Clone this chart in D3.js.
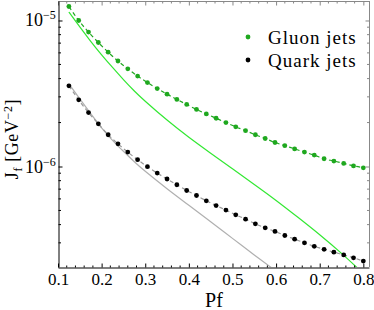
<!DOCTYPE html>
<html>
<head>
<meta charset="utf-8">
<script src="https://cdn.jsdelivr.net/npm/d3@7"></script>
<style>
  body { margin: 0; background: #fff; }
  text { font-family: "Liberation Serif", "DejaVu Serif", serif; fill: #000; }
</style>
</head>
<body>
<script>
/* Pf values of the sampled points */
var pfPoints = [0.125, 0.1475, 0.17, 0.1925, 0.215, 0.2375, 0.26, 0.2825, 0.305, 0.3275,
  0.35, 0.3725, 0.395, 0.4175, 0.44, 0.4625, 0.485, 0.5075, 0.53, 0.5525,
  0.575, 0.5975, 0.62, 0.6425, 0.665, 0.6875, 0.71, 0.7325, 0.755, 0.7775, 0.8];

/* J_f in units of 1e-6 GeV^-2 */
var gluonPoints = [12.47, 10.0, 8.33, 7.07, 6.07, 5.28, 4.67, 4.16, 3.76, 3.42,
  3.13, 2.88, 2.66, 2.46, 2.29, 2.14, 2.00, 1.87, 1.76, 1.65,
  1.555, 1.46, 1.39, 1.32, 1.255, 1.197, 1.13, 1.09, 1.05, 1.01, 0.98];
var quarkPoints = [3.57, 2.86, 2.34, 1.96, 1.65, 1.43, 1.255, 1.113, 0.997, 0.901,
  0.821, 0.750, 0.685, 0.633, 0.582, 0.540, 0.503, 0.467, 0.436, 0.405,
  0.380, 0.359, 0.337, 0.318, 0.300, 0.284, 0.271, 0.259, 0.248, 0.237, 0.225];

/* smooth reference curves */
var pfGluonCurve = [0.125, 0.15, 0.175, 0.2, 0.225, 0.25, 0.275, 0.3, 0.35, 0.4,
  0.45, 0.5, 0.55, 0.6, 0.65, 0.7, 0.75, 0.8];
var gluonCurve = [11.43, 9.03, 7.20, 5.82, 4.77, 3.94, 3.29, 2.80, 2.08, 1.587,
  1.234, 0.964, 0.754, 0.586, 0.449, 0.341, 0.254, 0.185];
var pfQuarkCurve = [0.125, 0.15, 0.175, 0.2, 0.225, 0.25, 0.275, 0.3, 0.35, 0.4,
  0.45, 0.5, 0.55, 0.6];
var quarkCurve = [3.68, 2.91, 2.30, 1.84, 1.512, 1.271, 1.077, 0.927, 0.704, 0.542,
  0.418, 0.322, 0.248, 0.192];

var xMajor = [0.1, 0.2, 0.3, 0.4, 0.5, 0.6, 0.7, 0.8];
var legendLabels = ["Gluon jets", "Quark jets"];

var green = "#1fa81f", lightGreen = "#33e833", grey = "#b0b0b0";

var W = 374, H = 310;
var pLeft = 58, pRight = 369, pTop = 1, pBottom = 267;

var svg = d3.select("body").append("svg")
    .attr("width", W)
    .attr("height", H);

var x = d3.scaleLinear().domain([0.1, 0.813]).range([pLeft, pRight]);
var y = d3.scaleLog().domain([2.05e-7, 1.36e-5]).range([pBottom, pTop]);

function pairs(xs, ys) {
  return xs.map(function(v, i) { return [v, ys[i] * 1e-6]; });
}

/* clip */
svg.append("clipPath").attr("id", "clip")
  .append("rect").attr("x", pLeft).attr("y", pTop)
  .attr("width", pRight - pLeft).attr("height", pBottom - pTop);

var plot = svg.append("g").attr("clip-path", "url(#clip)");

var line = d3.line()
    .x(function(d) { return x(d[0]); })
    .y(function(d) { return y(d[1]); })
    .curve(d3.curveMonotoneX);
var smooth = d3.line()
    .x(function(d) { return x(d[0]); })
    .y(function(d) { return y(d[1]); })
    .curve(d3.curveNatural);

plot.append("path").datum(pairs(pfGluonCurve, gluonCurve))
    .attr("d", smooth).attr("fill", "none")
    .attr("stroke", lightGreen).attr("stroke-width", 1.2);
plot.append("path").datum(pairs(pfQuarkCurve, quarkCurve))
    .attr("d", smooth).attr("fill", "none")
    .attr("stroke", grey).attr("stroke-width", 1.2);

plot.append("path").datum(pairs(pfPoints, gluonPoints))
    .attr("d", line).attr("fill", "none")
    .attr("stroke", green).attr("stroke-width", 1.2)
    .attr("stroke-dasharray", "4,3");
plot.append("path").datum(pairs(pfPoints, quarkPoints))
    .attr("d", line).attr("fill", "none")
    .attr("stroke", "#999").attr("stroke-width", 1.2)
    .attr("stroke-dasharray", "4,3");

plot.selectAll(".gdot").data(pairs(pfPoints, gluonPoints))
  .enter().append("circle").attr("class", "gdot")
    .attr("cx", function(d) { return x(d[0]); })
    .attr("cy", function(d) { return y(d[1]); })
    .attr("r", 2.4).attr("fill", green);
plot.selectAll(".qdot").data(pairs(pfPoints, quarkPoints))
  .enter().append("circle").attr("class", "qdot")
    .attr("cx", function(d) { return x(d[0]); })
    .attr("cy", function(d) { return y(d[1]); })
    .attr("r", 2.4).attr("fill", "#000");

/* frame: top and right grey, left and bottom black */
svg.append("line").attr("x1", pLeft).attr("x2", pRight).attr("y1", pTop + 0.5).attr("y2", pTop + 0.5)
    .attr("stroke", "#888");
svg.append("line").attr("x1", pRight + 0.5).attr("x2", pRight + 0.5).attr("y1", pTop).attr("y2", pBottom)
    .attr("stroke", "#888");

/* x ticks, bottom and top */
var xMinor = d3.range(10, 82, 2).map(function(v) { return v / 100; })
    .filter(function(v) { return xMajor.indexOf(v) < 0; });
var xAxisB = d3.axisBottom(x).tickValues(xMajor).tickSizeInner(-4).tickSizeOuter(0)
    .tickFormat(d3.format(".1f"));
var gxb = svg.append("g").attr("transform", "translate(0," + (pBottom + 0.5) + ")").call(xAxisB);
gxb.attr("font-family", null);
gxb.selectAll(".tick text").attr("y", 5).attr("font-size", 17);
gxb.select(".domain").attr("stroke", "#000");
gxb.selectAll(".minor").data(xMinor).enter().append("line")
    .attr("x1", function(d) { return x(d); }).attr("x2", function(d) { return x(d); })
    .attr("y1", 0).attr("y2", -2).attr("stroke", "#000");

var gxt = svg.append("g").attr("transform", "translate(0," + (pTop + 0.5) + ")")
    .call(d3.axisTop(x).tickValues(xMajor).tickSizeInner(-4).tickSizeOuter(0).tickFormat(""));
gxt.select(".domain").remove();
gxt.selectAll(".tick line").attr("stroke", "#888");
gxt.selectAll(".minor").data(xMinor).enter().append("line")
    .attr("x1", function(d) { return x(d); }).attr("x2", function(d) { return x(d); })
    .attr("y1", 0).attr("y2", 2).attr("stroke", "#888");

/* y ticks, left and right */
var yMajor = [1e-6, 1e-5];
var yMinor = [3e-7, 4e-7, 5e-7, 6e-7, 7e-7, 8e-7, 9e-7,
  2e-6, 3e-6, 4e-6, 5e-6, 6e-6, 7e-6, 8e-6, 9e-6];

var gyl = svg.append("g").attr("transform", "translate(" + (pLeft + 0.5) + ",0)")
    .call(d3.axisLeft(y).tickValues(yMajor).tickSizeInner(-4).tickSizeOuter(0).tickFormat(""));
gyl.select(".domain").attr("stroke", "#000");
gyl.selectAll(".minor").data(yMinor).enter().append("line")
    .attr("y1", function(d) { return y(d); }).attr("y2", function(d) { return y(d); })
    .attr("x1", 0).attr("x2", 2.5).attr("stroke", "#000");

var gyr = svg.append("g").attr("transform", "translate(" + (pRight + 0.5) + ",0)")
    .call(d3.axisRight(y).tickValues(yMajor).tickSizeInner(-4).tickSizeOuter(0).tickFormat(""));
gyr.select(".domain").remove();
gyr.selectAll(".tick line").attr("stroke", "#888");
gyr.selectAll(".minor").data(yMinor).enter().append("line")
    .attr("y1", function(d) { return y(d); }).attr("y2", function(d) { return y(d); })
    .attr("x1", 0).attr("x2", -2.5).attr("stroke", "#888");

/* y tick labels 10^-n */
yMajor.forEach(function(v) {
  var t = svg.append("text").attr("x", 25).attr("y", y(v) + 6).attr("font-size", 18);
  t.append("tspan").text("10");
  t.append("tspan").attr("dy", -7).attr("font-size", 12)
    .text("\u2212" + Math.round(-Math.log10(v)));
});

/* axis labels */
svg.append("text").attr("x", 214).attr("y", 307).attr("text-anchor", "middle")
    .attr("font-size", 20).text("Pf");

var yl = svg.append("text").attr("transform", "translate(18,139) rotate(-90)")
    .attr("text-anchor", "middle").attr("font-size", 18).attr("letter-spacing", 0.6);
yl.append("tspan").text("J");
yl.append("tspan").attr("dy", 4).attr("font-size", 12).text("f");
yl.append("tspan").attr("dy", -4).text(" [GeV");
yl.append("tspan").attr("dy", -6).attr("font-size", 12).text("\u22122");
yl.append("tspan").attr("dy", 6).text("]");

/* legend */
var legendColors = [green, "#000"];
var lg = svg.selectAll(".legend").data(legendLabels)
  .enter().append("g").attr("class", "legend")
    .attr("transform", function(d, i) { return "translate(248," + (37 + i * 23) + ")"; });
lg.append("circle").attr("r", 2.4).attr("fill", function(d, i) { return legendColors[i]; });
lg.append("text").attr("x", 20).attr("y", 6.5).attr("font-size", 19)
    .attr("letter-spacing", 1).text(function(d) { return d; });
</script>
</body>
</html>
